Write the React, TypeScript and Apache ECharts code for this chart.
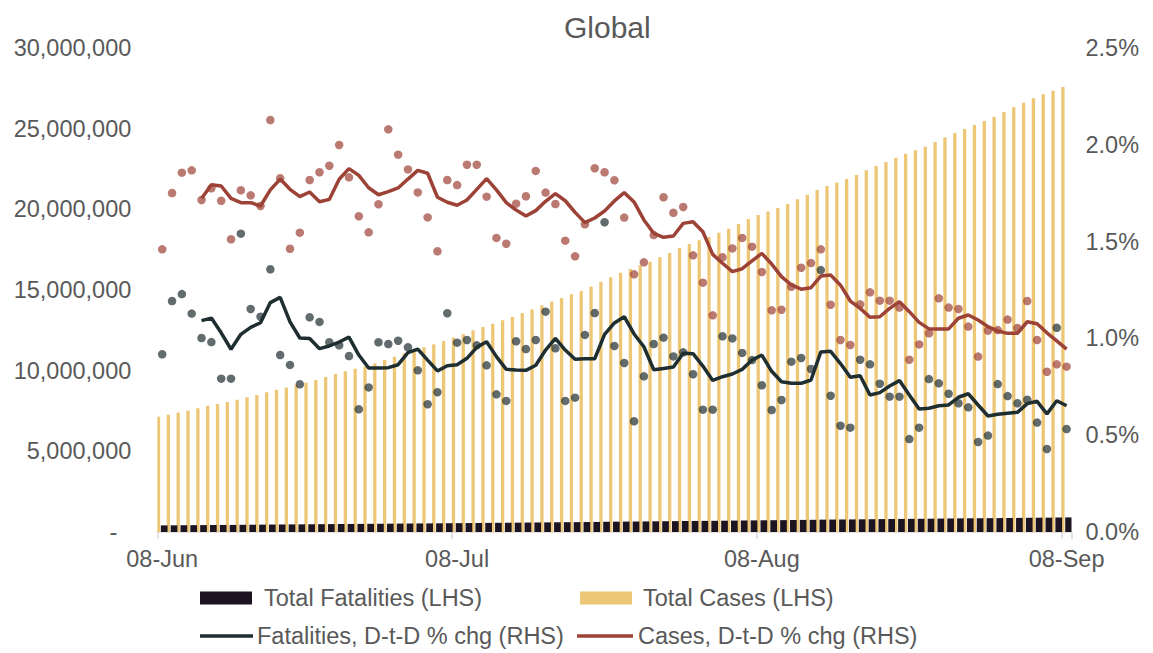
import React, { useEffect, useRef } from "react";
import * as echarts from "echarts";

// Dates: 08-Jun-2020 .. 08-Sep-2020 (one category per day)
const MONTHS = ["Jan","Feb","Mar","Apr","May","Jun","Jul","Aug","Sep","Oct","Nov","Dec"];
const START = new Date(2020, 5, 8);
const categories: string[] = Array.from({ length: 93 }, (_, i) => {
  const d = new Date(START.getFullYear(), START.getMonth(), START.getDate() + i);
  return String(d.getDate()).padStart(2, "0") + "-" + MONTHS[d.getMonth()];
});
const labelIdx = [0, 30, 61, 92];

// Total cases (millions)
const totalCasesM = [
  7.15, 7.27, 7.40, 7.52, 7.67, 7.83, 7.93, 8.06, 8.20, 8.35,
  8.49, 8.66, 8.82, 8.95, 9.13, 9.26, 9.42, 9.61, 9.79, 9.96,
  10.12, 10.25, 10.45, 10.66, 10.87, 11.08, 11.24, 11.45, 11.63, 11.84,
  12.05, 12.27, 12.50, 12.71, 12.91, 13.12, 13.33, 13.57, 13.80, 14.05,
  14.28, 14.50, 14.73, 14.94, 15.21, 15.50, 15.79, 16.07, 16.30, 16.53,
  16.75, 17.03, 17.29, 17.60, 17.85, 18.08, 18.29, 18.55, 18.80, 19.09,
  19.40, 19.65, 19.86, 20.08, 20.33, 20.62, 20.91, 21.20, 21.45, 21.67,
  21.88, 22.13, 22.42, 22.69, 22.93, 23.20, 23.45, 23.66, 23.88, 24.17,
  24.46, 24.73, 24.98, 25.23, 25.48, 25.74, 26.03, 26.32, 26.61, 26.88,
  27.13, 27.35, 27.58,
];

// Total fatalities (thousands)
const totalFatalitiesK = [
  410.0, 414.9, 420.0, 424.7, 429.0, 433.2, 436.6, 440.1, 446.9, 452.0,
  457.0, 463.2, 467.4, 471.4, 475.0, 480.3, 485.5, 490.3, 495.0, 499.5,
  502.7, 506.5, 511.5, 516.5, 521.6, 526.6, 531.0, 534.5, 538.4, 544.5,
  549.8, 555.3, 560.7, 565.5, 569.5, 573.4, 579.0, 584.5, 590.3, 597.0,
  602.7, 606.8, 611.0, 617.2, 624.2, 634.2, 640.3, 645.9, 649.6, 654.8,
  661.2, 667.8, 673.9, 680.2, 685.7, 690.0, 694.4, 701.4, 708.4, 715.0,
  721.3, 726.8, 731.4, 736.4, 742.9, 749.6, 755.9, 766.1, 771.5, 775.7,
  779.9, 786.8, 793.6, 799.7, 805.3, 810.9, 814.8, 819.2, 825.7, 832.0,
  837.9, 843.5, 848.9, 852.8, 857.0, 863.5, 869.6, 875.4, 881.4, 886.4,
  890.2, 899.6, 904.4,
];

// Daily % change, cases (dots)
const casesDailyPct = [
  1.460, 1.751, 1.856, 1.868, 1.715, 1.775, 1.711, 1.512, 1.765, 1.739,
  1.684, 2.128, 1.827, 1.463, 1.546, 1.818, 1.858, 1.892, 1.999, 1.832,
  1.631, 1.548, 1.693, 2.080, 1.949, 1.873, 1.754, 1.625, 1.450, 1.818,
  1.792, 1.897, 1.897, 1.732, 1.519, 1.489, 1.696, 1.734, 1.865, 1.753,
  1.694, 1.505, 1.424, 1.589, 1.879, 1.858, 1.817, 1.624, 1.331, 1.393,
  1.534, 1.729, 1.649, 1.679, 1.429, 1.288, 1.119, 1.419, 1.465, 1.519,
  1.474, 1.343, 1.145, 1.148, 1.267, 1.365, 1.389, 1.460, 1.174, 0.992,
  0.966, 1.176, 1.238, 1.195, 1.195, 1.159, 0.890, 0.969, 1.026, 1.207,
  1.159, 1.152, 1.061, 0.906, 1.040, 1.043, 1.097, 1.054, 1.193, 0.992,
  0.828, 0.866, 0.854,
];

// Daily % change, fatalities (dots)
const fatalitiesDailyPct = [
  0.918, 1.193, 1.229, 1.128, 1.002, 0.981, 0.792, 0.792, 1.541, 1.152,
  1.112, 1.357, 0.914, 0.863, 0.763, 1.109, 1.085, 0.980, 0.964, 0.909,
  0.634, 0.747, 0.980, 0.971, 0.988, 0.954, 0.835, 0.660, 0.722, 1.130,
  0.978, 0.992, 0.964, 0.861, 0.711, 0.677, 0.985, 0.945, 0.992, 1.138,
  0.949, 0.677, 0.694, 1.018, 1.131, 1.600, 0.961, 0.873, 0.572, 0.804,
  0.971, 1.004, 0.907, 0.928, 0.815, 0.632, 0.632, 1.011, 1.000, 0.925,
  0.888, 0.758, 0.630, 0.682, 0.880, 0.899, 0.842, 1.353, 0.704, 0.549,
  0.539, 0.890, 0.866, 0.766, 0.699, 0.699, 0.480, 0.539, 0.790, 0.768,
  0.714, 0.665, 0.644, 0.465, 0.498, 0.764, 0.702, 0.665, 0.683, 0.565,
  0.429, 1.055, 0.532,
];

// Smoothed % change lines (first value on 12-Jun)
const casesLinePct = [
  "-", "-", "-", "-",
  1.723, 1.794, 1.787, 1.723, 1.701, 1.701, 1.684, 1.767, 1.823, 1.770,
  1.732, 1.756, 1.706, 1.718, 1.822, 1.877, 1.842, 1.778, 1.742, 1.758,
  1.777, 1.823, 1.868, 1.853, 1.729, 1.703, 1.688, 1.715, 1.770, 1.825,
  1.767, 1.701, 1.663, 1.632, 1.660, 1.708, 1.748, 1.711, 1.651, 1.598,
  1.622, 1.658, 1.710, 1.753, 1.705, 1.612, 1.543, 1.522, 1.529, 1.594,
  1.603, 1.551, 1.434, 1.388, 1.345, 1.360, 1.400, 1.439, 1.384, 1.319,
  1.276, 1.254, 1.262, 1.322, 1.327, 1.275, 1.193, 1.155, 1.109, 1.112,
  1.155, 1.190, 1.138, 1.083, 1.049, 1.049, 1.049, 1.104, 1.121, 1.095,
  1.061, 1.038, 1.026, 1.026, 1.086, 1.076, 1.029, 0.987, 0.945,
];

const fatalitiesLinePct = [
  "-", "-", "-", "-",
  1.092, 1.105, 1.029, 0.944, 1.021, 1.057, 1.081, 1.185, 1.212, 1.085,
  1.002, 0.999, 0.947, 0.961, 0.981, 1.007, 0.914, 0.847, 0.847, 0.849,
  0.864, 0.926, 0.945, 0.888, 0.832, 0.859, 0.864, 0.897, 0.954, 0.983,
  0.906, 0.840, 0.837, 0.835, 0.861, 0.940, 1.000, 0.940, 0.892, 0.895,
  0.895, 1.021, 1.080, 1.112, 1.023, 0.957, 0.838, 0.845, 0.852, 0.923,
  0.921, 0.857, 0.783, 0.802, 0.816, 0.840, 0.888, 0.914, 0.830, 0.776,
  0.768, 0.768, 0.785, 0.930, 0.933, 0.870, 0.799, 0.807, 0.708, 0.720,
  0.754, 0.782, 0.708, 0.635, 0.639, 0.652, 0.656, 0.696, 0.714, 0.656,
  0.599, 0.608, 0.613, 0.618, 0.663, 0.675, 0.610, 0.678, 0.652,
];

const TEXT = "#595959";
const FONT = "'Liberation Sans', Arial, sans-serif";
const YELLOW = "#EDC676";
const DARKBAR = "#1C1521";
const RED = "#9C4236";
const DARK = "#1F2E30";

export default function App() {
  const ref = useRef<HTMLDivElement>(null);

  useEffect(() => {
    document.body.style.margin = "0";
    if (!ref.current) return;
    const chart = echarts.init(ref.current, undefined, { renderer: "svg" });
    const showIdx = (i: number) => labelIdx.includes(i);
    const legendText = { color: TEXT, fontSize: 23.5, fontFamily: FONT };

    chart.setOption({
      animation: false,
      textStyle: { fontFamily: FONT },
      title: {
        text: "Global",
        left: 564,
        top: 12,
        padding: 0,
        textStyle: { color: TEXT, fontSize: 30, fontWeight: "normal", fontFamily: FONT },
      },
      grid: { left: 157.3, right: 81.5, top: 48, bottom: 121, containLabel: false },
      legend: [
        {
          data: [{ name: "Total Fatalities (LHS)", icon: "rect" }],
          left: 200, top: 586, padding: 0, itemWidth: 52, itemHeight: 13,
          textStyle: { ...legendText, padding: [0, 0, 0, 7] },
        },
        {
          data: [{ name: "Total Cases (LHS)", icon: "rect" }],
          left: 580, top: 586, padding: 0, itemWidth: 52, itemHeight: 13,
          textStyle: { ...legendText, padding: [0, 0, 0, 6] },
        },
        {
          data: [{ name: "Fatalities, D-t-D % chg (RHS)", icon: "rect" }],
          left: 200, top: 624, padding: 0, itemWidth: 53, itemHeight: 3.5,
          textStyle: { ...legendText, padding: [0, 0, 0, -1] },
        },
        {
          data: [{ name: "Cases, D-t-D % chg (RHS)", icon: "rect" }],
          left: 577, top: 624, padding: 0, itemWidth: 56, itemHeight: 3.5,
          textStyle: { ...legendText, padding: [0, 0, 0, 0] },
        },
      ],
      xAxis: {
        type: "category",
        data: categories,
        boundaryGap: true,
        axisLine: { lineStyle: { color: "#d9d9d9", width: 1.5 } },
        axisTick: { show: true, interval: (i: number) => showIdx(i), length: 7, lineStyle: { color: "#d9d9d9", width: 1.5 } },
        axisLabel: {
          interval: (i: number) => showIdx(i),
          color: TEXT, fontSize: 23.5, fontFamily: FONT, margin: 15,
        },
        splitLine: { show: false },
      },
      yAxis: [
        {
          type: "value",
          min: 0, max: 30000000, interval: 5000000,
          axisLine: { show: false }, axisTick: { show: false }, splitLine: { show: false },
          axisLabel: {
            color: TEXT, fontSize: 23.5, fontFamily: FONT, margin: 26,
            formatter: (v: number) => (v === 0 ? "{d|-}" : Math.round(v).toLocaleString("en-US")),
            rich: { d: { color: TEXT, fontSize: 23.5, fontFamily: FONT, padding: [0, 14, 0, 0] } },
          },
        },
        {
          type: "value",
          min: 0, max: 2.5, interval: 0.5,
          axisLine: { show: false }, axisTick: { show: false }, splitLine: { show: false },
          axisLabel: {
            color: TEXT, fontSize: 23.5, fontFamily: FONT, margin: 14,
            formatter: (v: number) => v.toFixed(1) + "%",
          },
        },
      ],
      series: [
        {
          name: "Total Cases (LHS)",
          type: "bar",
          yAxisIndex: 0,
          data: totalCasesM.map((v) => v * 1e6),
          barWidth: 3.3,
          barGap: "20%",
          itemStyle: { color: YELLOW },
          z: 1,
        },
        {
          name: "Total Fatalities (LHS)",
          type: "bar",
          yAxisIndex: 0,
          data: totalFatalitiesK.map((v) => v * 1e3),
          barWidth: 6.7,
          barGap: "20%",
          itemStyle: { color: DARKBAR },
          z: 1,
        },
        {
          name: "Cases daily",
          type: "scatter",
          yAxisIndex: 1,
          data: casesDailyPct,
          symbolSize: 8.5,
          itemStyle: { color: RED, opacity: 0.7 },
          z: 3,
        },
        {
          name: "Fatalities daily",
          type: "scatter",
          yAxisIndex: 1,
          data: fatalitiesDailyPct,
          symbolSize: 8.5,
          itemStyle: { color: DARK, opacity: 0.7 },
          z: 3,
        },
        {
          name: "Fatalities, D-t-D % chg (RHS)",
          type: "line",
          yAxisIndex: 1,
          data: fatalitiesLinePct,
          symbol: "none",
          lineStyle: { color: DARK, width: 3.5 },
          itemStyle: { color: DARK },
          z: 4,
        },
        {
          name: "Cases, D-t-D % chg (RHS)",
          type: "line",
          yAxisIndex: 1,
          data: casesLinePct,
          symbol: "none",
          lineStyle: { color: RED, width: 3.5 },
          itemStyle: { color: RED },
          z: 4,
        },
      ],
    });

    return () => chart.dispose();
  }, []);

  return <div ref={ref} style={{ width: 1153, height: 653 }} />;
}
